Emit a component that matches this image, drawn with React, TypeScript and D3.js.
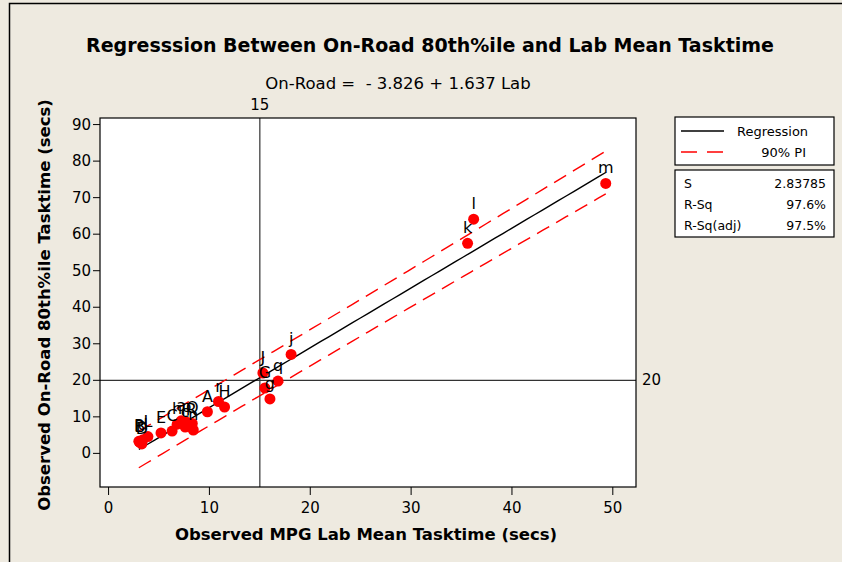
import React from 'react';
import * as d3 from 'd3';

// Observed points (lab mean, on-road 80th %ile) with their labels
const labels = ['m', 'l', 'k', 'j', 'J', 'G', 'q', 'g', 'H', 'r', 'A', 'Q', 'R', 'n', 'p', 'a', 'h', 'c', 'C', 'E', 'L', 'd', 'B', 'P', 'D'];
const labX = [49.3, 36.2, 35.6, 18.1, 15.3, 15.5, 16.8, 16.0, 11.5, 10.9, 9.8, 8.3, 8.2, 8.4, 7.7, 7.2, 6.8, 7.6, 6.3, 5.2, 3.9, 3.4, 3.1, 3.0, 3.3];
const roadY = [73.9, 64.1, 57.5, 27.1, 22.0, 17.9, 19.8, 14.9, 12.7, 14.2, 11.4, 8.2, 7.8, 6.4, 8.6, 8.9, 8.0, 7.2, 6.1, 5.6, 4.6, 3.7, 3.0, 3.3, 2.6];

const xTicks = [0, 10, 20, 30, 40, 50];
const yTicks = [0, 10, 20, 30, 40, 50, 60, 70, 80, 90];

// fitted model as printed on the chart
const intercept = -3.826;
const slope = 1.637;
const sValue = 2.83785;
const tCrit = 1.708; // t(0.95, n-2)
const stats = [
  ['S', '2.83785'],
  ['R-Sq', '97.6%'],
  ['R-Sq(adj)', '97.5%'],
];
const refX = 15;
const refY = 20;

const W = 842;
const H = 562;
const plot = { left: 100, right: 636, top: 118, bottom: 487 };

const App = () => {
  const x = d3.scaleLinear().domain([-0.85, 52.3]).range([plot.left, plot.right]);
  const y = d3.scaleLinear().domain([-9.2, 91.8]).range([plot.bottom, plot.top]);

  const n = labX.length;
  const xbar = d3.mean(labX) as number;
  const sxx = d3.sum(labX, (v) => (v - xbar) ** 2);
  const xmin = d3.min(labX) as number;
  const xmax = d3.max(labX) as number;
  const grid = d3.range(60).map((i) => xmin + ((xmax - xmin) * i) / 59);

  const fit = (v: number) => intercept + slope * v;
  const half = (v: number) => tCrit * sValue * Math.sqrt(1 + 1 / n + (v - xbar) ** 2 / sxx);

  const regPath = d3.line<number>().x((v) => x(v)).y((v) => y(fit(v)))(grid) as string;
  const upPath = d3.line<number>().x((v) => x(v)).y((v) => y(fit(v) + half(v)))(grid) as string;
  const loPath = d3.line<number>().x((v) => x(v)).y((v) => y(fit(v) - half(v)))(grid) as string;

  const font = 'DejaVu Sans, Verdana, sans-serif';

  return (
    <svg width={W} height={H} style={{ position: 'absolute', left: 0, top: 0, display: 'block' }} fontFamily={font}>
      <rect x={0} y={0} width={W} height={H} fill="#eeeae0" />
      <path d={`M9.5,${H} V3.5 H${W}`} fill="none" stroke="#000" strokeWidth={1.5} />

      <text x={430} y={52} textAnchor="middle" fontSize={19} fontWeight="bold">
        Regresssion Between On-Road 80th%ile and Lab Mean Tasktime
      </text>
      <text x={398} y={89} textAnchor="middle" fontSize={16.5} xmlSpace="preserve">
        On-Road =  - 3.826 + 1.637 Lab
      </text>

      <rect x={plot.left} y={plot.top} width={plot.right - plot.left} height={plot.bottom - plot.top} fill="#fff" />

      <line x1={x(refX)} x2={x(refX)} y1={plot.top} y2={plot.bottom} stroke="#333" strokeWidth={1.2} />
      <line x1={plot.left} x2={plot.right} y1={y(refY)} y2={y(refY)} stroke="#333" strokeWidth={1.2} />
      <text x={x(refX)} y={plot.top - 8} textAnchor="middle" fontSize={15}>{refX}</text>
      <text x={plot.right + 6} y={y(refY) + 5} fontSize={15}>{refY}</text>

      <path d={upPath} fill="none" stroke="#ff0000" strokeWidth={1.4} strokeDasharray="14 8" />
      <path d={loPath} fill="none" stroke="#ff0000" strokeWidth={1.4} strokeDasharray="14 8" />
      <path d={regPath} fill="none" stroke="#000" strokeWidth={1.4} />

      {labX.map((v, i) => (
        <circle key={'p' + i} cx={x(v)} cy={y(roadY[i])} r={5.5} fill="#ff0000" />
      ))}
      {labX.map((v, i) => (
        <text key={'t' + i} x={x(v)} y={y(roadY[i]) - 10} textAnchor="middle" fontSize={16} fill="#000">
          {labels[i]}
        </text>
      ))}

      <rect x={plot.left} y={plot.top} width={plot.right - plot.left} height={plot.bottom - plot.top} fill="none" stroke="#000" strokeWidth={1.2} />

      {xTicks.map((t) => (
        <g key={'xt' + t}>
          <line x1={x(t)} x2={x(t)} y1={plot.bottom} y2={plot.bottom + 8} stroke="#000" />
          <text x={x(t)} y={plot.bottom + 26} textAnchor="middle" fontSize={15}>{t}</text>
        </g>
      ))}
      {yTicks.map((t) => (
        <g key={'yt' + t}>
          <line x1={plot.left - 7} x2={plot.left} y1={y(t)} y2={y(t)} stroke="#000" />
          <text x={plot.left - 9} y={y(t) + 5} textAnchor="end" fontSize={15}>{t}</text>
        </g>
      ))}

      <text x={366} y={540} textAnchor="middle" fontSize={16.5} fontWeight="bold">
        Observed MPG Lab Mean Tasktime (secs)
      </text>
      <text transform={`translate(50,${305}) rotate(-90)`} textAnchor="middle" fontSize={16.5} fontWeight="bold">
        Observed On-Road 80th%ile Tasktime (secs)
      </text>

      {/* legend */}
      <rect x={675} y={117} width={159} height={48} fill="#fff" stroke="#000" strokeWidth={1.2} />
      <line x1={681} x2={724} y1={131} y2={131} stroke="#000" strokeWidth={1.4} />
      <text x={737} y={136} fontSize={13}>Regression</text>
      <line x1={681} x2={724} y1={152} y2={152} stroke="#ff0000" strokeWidth={1.4} strokeDasharray="16 10" />
      <text x={806} y={157} textAnchor="end" fontSize={13}>90% PI</text>

      <rect x={675} y={170} width={159} height={67} fill="#fff" stroke="#000" strokeWidth={1.2} />
      {stats.map((s, i) => (
        <g key={s[0]}>
          <text x={684} y={188 + i * 21} fontSize={12.5}>{s[0]}</text>
          <text x={826} y={188 + i * 21} textAnchor="end" fontSize={12.5}>{s[1]}</text>
        </g>
      ))}
    </svg>
  );
};

export default App;
